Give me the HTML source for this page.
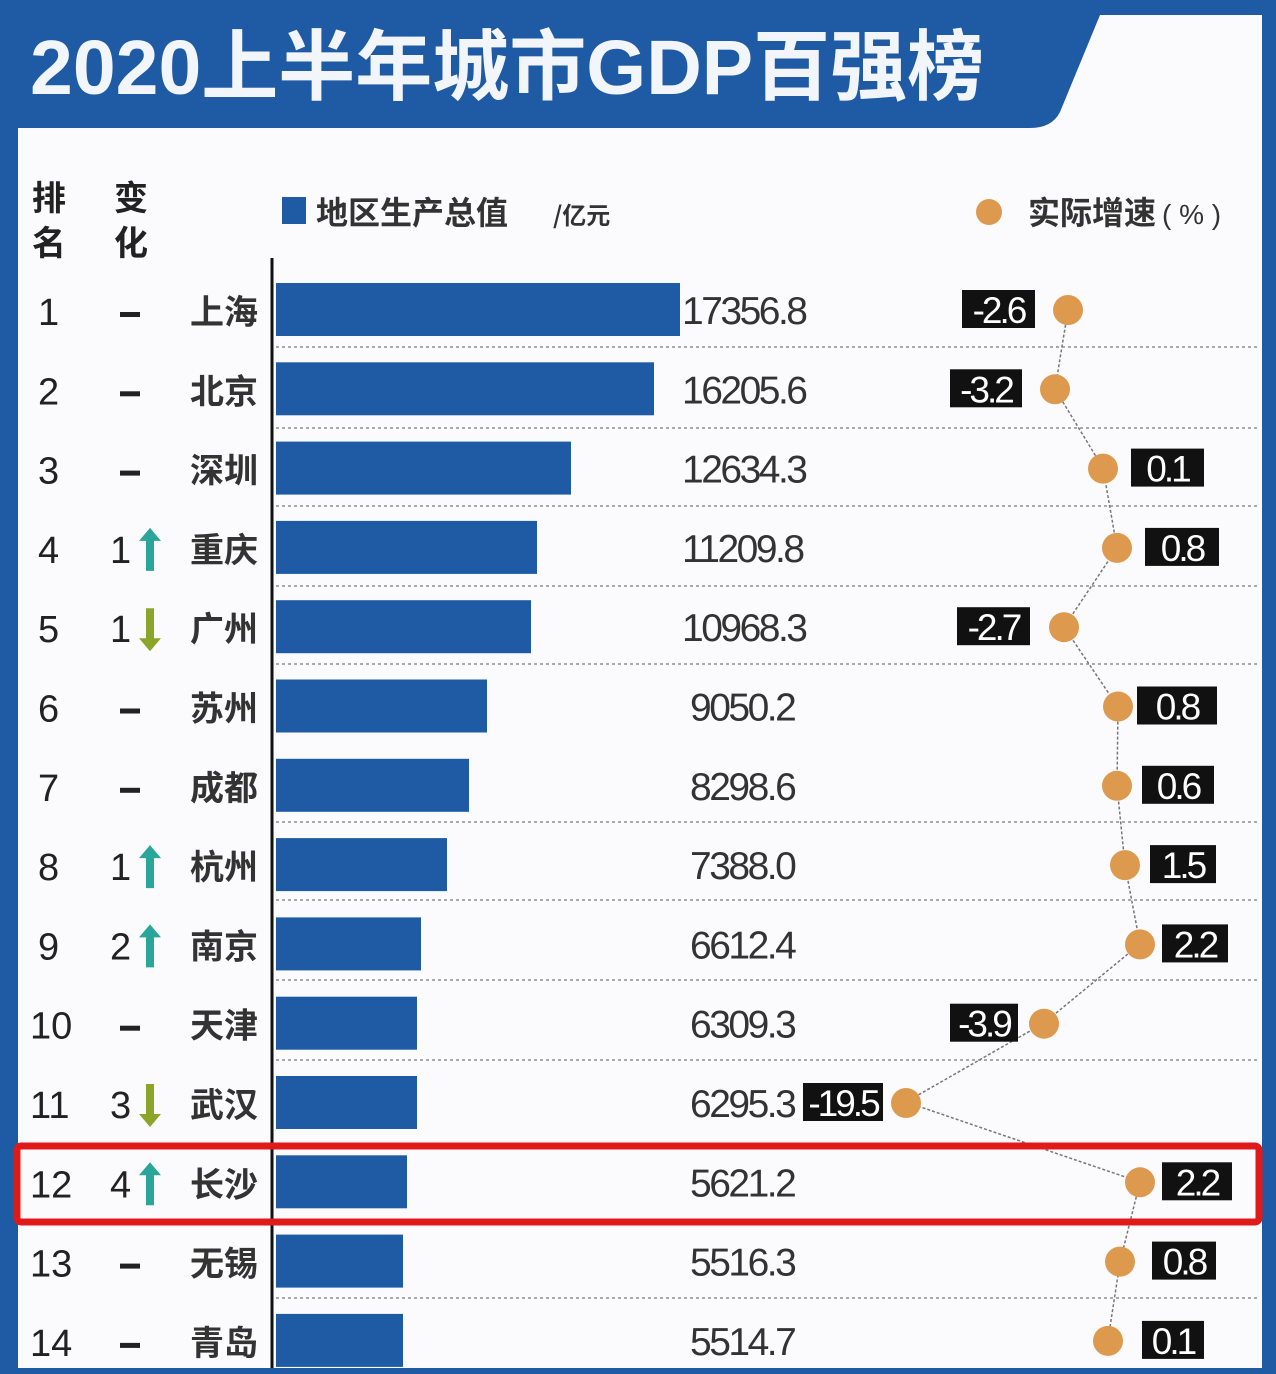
<!DOCTYPE html>
<html><head><meta charset="utf-8"><style>
html,body{margin:0;padding:0;background:#fff;}
body{width:1276px;height:1374px;overflow:hidden;position:relative;font-family:"Liberation Sans","Noto Sans CJK SC",sans-serif;}
</style></head><body>
<svg width="1276" height="1374" viewBox="0 0 1276 1374" xmlns="http://www.w3.org/2000/svg" style="position:absolute;left:0;top:0">
<rect width="1276" height="1374" fill="#fbfbfd"/>
<rect x="0" y="0" width="18" height="1374" fill="#1f5aa5"/>
<rect x="1262" y="0" width="14" height="1374" fill="#1f5aa5"/>
<rect x="0" y="1368" width="1276" height="6" fill="#1f5aa5"/>
<rect x="0" y="0" width="1276" height="15" fill="#1f5aa5"/>
<path d="M0,0 L1100,0 L1100,15 L1060,112 Q1052,128 1030,128 L0,128 Z" fill="#1f5aa5"/>
<text x="30" y="94" font-size="77" font-weight="bold" fill="#f2f5fa" font-family="Liberation Sans,Noto Sans CJK SC,sans-serif" letter-spacing="0">2020上半年城市GDP百强榜</text>
<g font-size="34" fill="#222" font-weight="bold" font-family="Noto Sans CJK SC,sans-serif">
<text x="32" y="210">排</text><text x="32" y="255">名</text>
<text x="114" y="210">变</text><text x="114" y="255">化</text>
</g>
<rect x="282" y="197" width="24" height="27" fill="#1f5aa5"/>
<text x="316" y="224" font-size="32" fill="#333" font-weight="bold" font-family="Noto Sans CJK SC,sans-serif">地区生产总值</text>
<text x="553" y="224" font-size="24" fill="#333" font-weight="bold" font-family="Noto Sans CJK SC,sans-serif">/亿元</text>
<circle cx="989" cy="212" r="13" fill="#dd9a4e"/>
<text x="1028" y="224" font-size="32" fill="#333" font-weight="bold" font-family="Noto Sans CJK SC,sans-serif">实际增速</text>
<text x="1162" y="224" font-size="28" fill="#333">( % )</text>
<line x1="272" y1="258" x2="272" y2="1368" stroke="#111" stroke-width="3"/>
<g stroke="#aaa" stroke-width="2" stroke-dasharray="3,3">
<line x1="276" y1="347" x2="1260" y2="347"/><line x1="276" y1="428" x2="1260" y2="428"/>
<line x1="276" y1="506" x2="1260" y2="506"/><line x1="276" y1="586" x2="1260" y2="586"/>
<line x1="276" y1="664" x2="1260" y2="664"/><line x1="276" y1="822" x2="1260" y2="822"/>
<line x1="276" y1="900" x2="1260" y2="900"/><line x1="276" y1="980" x2="1260" y2="980"/>
<line x1="276" y1="1060" x2="1260" y2="1060"/><line x1="276" y1="1298" x2="1260" y2="1298"/>
</g>
<g id="rows" font-family="Liberation Sans,Noto Sans CJK SC,sans-serif"></g>
<polyline fill="none" stroke="#777" stroke-width="1.5" stroke-dasharray="3,2" points="1068,310 1055,389 1103,468 1117,548 1064,627 1118,707 1117,786 1125,865 1140,944 1044,1023 906,1102 1140,1182 1120,1262 1108,1340"/>
<g id="dots"></g>
<rect x="17" y="1146" width="1242" height="76" fill="none" stroke="#e01a1a" stroke-width="7" rx="4"/>
</svg>
<script>
var rows=[["1","–","",  "上海",680,"17356.8",1068,"-2.6",962,1035],
["2","–","","北京",654,"16205.6",1055,"-3.2",950,1022],
["3","–","","深圳",571,"12634.3",1103,"0.1",1131,1204],
["4","1","u","重庆",537,"11209.8",1117,"0.8",1145,1219],
["5","1","d","广州",531,"10968.3",1064,"-2.7",957,1030],
["6","–","","苏州",487,"9050.2",1118,"0.8",1137,1217],
["7","–","","成都",469,"8298.6",1117,"0.6",1142,1214],
["8","1","u","杭州",447,"7388.0",1125,"1.5",1150,1216],
["9","2","u","南京",421,"6612.4",1140,"2.2",1162,1228],
["10","–","","天津",417,"6309.3",1044,"-3.9",950,1018],
["11","3","d","武汉",417,"6295.3",906,"-19.5",803,883],
["12","4","u","长沙",407,"5621.2",1140,"2.2",1162,1232],
["13","–","","无锡",403,"5516.3",1120,"0.8",1152,1216],
["14","–","","青岛",403,"5514.7",1108,"0.1",1142,1204]];
var g=document.getElementById("rows"),d=document.getElementById("dots"),s="",t="";
rows.forEach(function(r,i){var y=310+i*79.3;
s+='<text x="'+(r[0].length>1?30:38)+'" y="'+(y+15)+'" font-size="38" fill="#222">'+r[0]+'</text>';
if(r[2]==""){s+='<rect x="120" y="'+(y+2)+'" width="20" height="5" fill="#222"/>';}
else{s+='<text x="110" y="'+(y+15)+'" font-size="38" fill="#222">'+r[1]+'</text>';
var c=r[2]=="u"?"#2aa59a":"#8aa52a";
if(r[2]=="u")s+='<path d="M150,'+(y-20)+' l-11,13 h7 v30 h8 v-30 h7 z" fill="'+c+'"/>';
else s+='<path d="M150,'+(y+24)+' l-11,-13 h7 v-30 h8 v30 h7 z" fill="'+c+'"/>';}
s+='<text x="190" y="'+(y+14)+'" font-size="34" font-weight="bold" fill="#333" font-family="Noto Sans CJK SC,sans-serif">'+r[3]+'</text>';
s+='<rect x="276" y="'+(y-27)+'" width="'+(r[4]-276)+'" height="53" fill="#1f5aa5"/>';
s+='<text x="'+(r[5].length>6?682:690)+'" y="'+(y+14)+'" font-size="39" fill="#333" letter-spacing="-2.5">'+r[5]+'</text>';
t+='<rect x="'+r[8]+'" y="'+(y-20)+'" width="'+(r[9]-r[8])+'" height="38" fill="#111"/>';
t+='<text x="'+((r[8]+r[9])/2)+'" y="'+(y+13)+'" font-size="37" fill="#fff" text-anchor="middle" letter-spacing="-3">'+r[7]+'</text>';
t+='<circle cx="'+r[6]+'" cy="'+y+'" r="15" fill="#dd9a4e"/>';
});
g.innerHTML=s;d.innerHTML=t;
</script>
</body></html>
